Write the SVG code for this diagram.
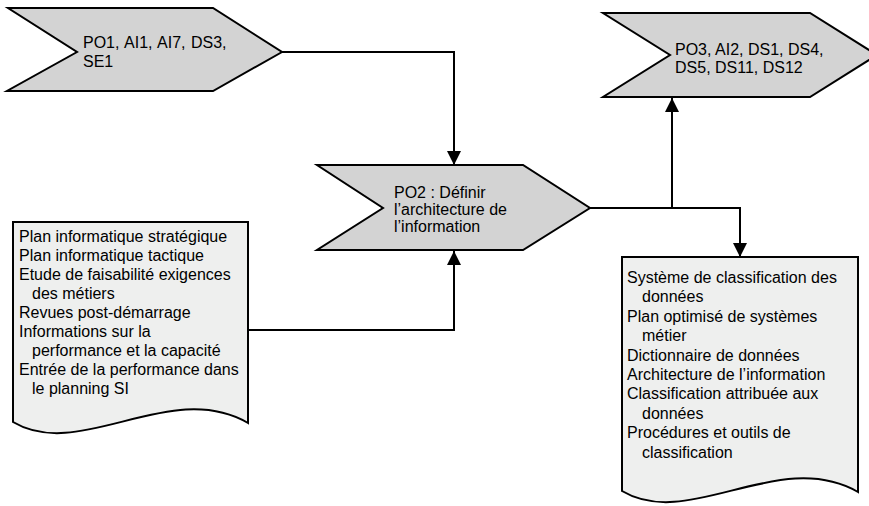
<svg xmlns="http://www.w3.org/2000/svg" width="869" height="506" viewBox="0 0 869 506">
  <style>
    .chev { fill: #d3d3d3; stroke: #000; stroke-width: 2; stroke-linejoin: miter; }
    .doc { fill: #eeefee; stroke: #000; stroke-width: 2; stroke-linejoin: miter; }
    .lbl { font-family: "Liberation Sans", Arial, sans-serif; font-size: 16px; fill: #000; }
    .wire { fill: none; stroke: #000; stroke-width: 2; }
  </style>
  <defs>
    <marker id="arrow" markerUnits="userSpaceOnUse" markerWidth="14" markerHeight="14" viewBox="0 0 14 14" refX="14" refY="7" orient="auto">
      <path d="M0,0 L14,7 L0,14 Z" fill="#000"/>
    </marker>
  </defs>

  <rect width="869" height="506" fill="#fff"/>

  <!-- connectors -->
  <g id="connectors">
    <path class="wire" d="M282,52 H454 V165" marker-end="url(#arrow)"/>
    <path class="wire" d="M248,330 H454 V251" marker-end="url(#arrow)"/>
    <path class="wire" d="M590,208 H740 V257" marker-end="url(#arrow)"/>
    <path class="wire" d="M672,208 V98" marker-end="url(#arrow)"/>
  </g>

  <!-- inputs -->
  <g id="inputs-processes">
    <polygon class="chev" points="8,8 213,8 282,52 213,91 7,91 77,52"/>
    <text class="lbl" word-spacing="1"><tspan x="83" y="48">PO1, AI1, AI7, DS3,</tspan><tspan x="83" y="67">SE1</tspan></text>
  </g>

  <!-- outputs -->
  <g id="outputs-processes">
    <polygon class="chev" points="603,13 810,13 877,55 810,97 603,97 670,55"/>
    <text class="lbl"><tspan x="675" y="55">PO3, AI2, DS1, DS4,</tspan><tspan x="675" y="73">DS5, DS11, DS12</tspan></text>
  </g>

  <!-- central process -->
  <g id="po2">
    <polygon class="chev" points="317,165 523,165 590,208 523,250 317,250 383,208"/>
    <text class="lbl"><tspan x="394" y="198">PO2 : Définir</tspan><tspan x="394" y="215">l’architecture de</tspan><tspan x="394" y="232">l’information</tspan></text>
  </g>

  <!-- input documents -->
  <g id="input-docs">
    <path class="doc" d="M13,222 H248 V423 C170,378 80,462 13,422 Z"/>
    <text class="lbl">
      <tspan x="19" y="242">Plan informatique stratégique</tspan>
      <tspan x="19" y="261">Plan informatique tactique</tspan>
      <tspan x="19" y="280">Etude de faisabilité exigences</tspan>
      <tspan x="32" y="299">des métiers</tspan>
      <tspan x="19" y="318">Revues post-démarrage</tspan>
      <tspan x="19" y="337">Informations sur la</tspan>
      <tspan x="32" y="356">performance et la capacité</tspan>
      <tspan x="19" y="375">Entrée de la performance dans</tspan>
      <tspan x="32" y="394">le planning SI</tspan>
    </text>
  </g>

  <!-- output documents -->
  <g id="output-docs">
    <path class="doc" d="M622,257 H858 V492 C779,447 689,531 622,491 Z"/>
    <text class="lbl">
      <tspan x="627" y="283">Système de classification des</tspan>
      <tspan x="642" y="302">données</tspan>
      <tspan x="627" y="322">Plan optimisé de systèmes</tspan>
      <tspan x="642" y="341">métier</tspan>
      <tspan x="627" y="361">Dictionnaire de données</tspan>
      <tspan x="627" y="380">Architecture de l’information</tspan>
      <tspan x="627" y="399">Classification attribuée aux</tspan>
      <tspan x="642" y="419">données</tspan>
      <tspan x="627" y="438">Procédures et outils de</tspan>
      <tspan x="642" y="458">classification</tspan>
    </text>
  </g>
</svg>
